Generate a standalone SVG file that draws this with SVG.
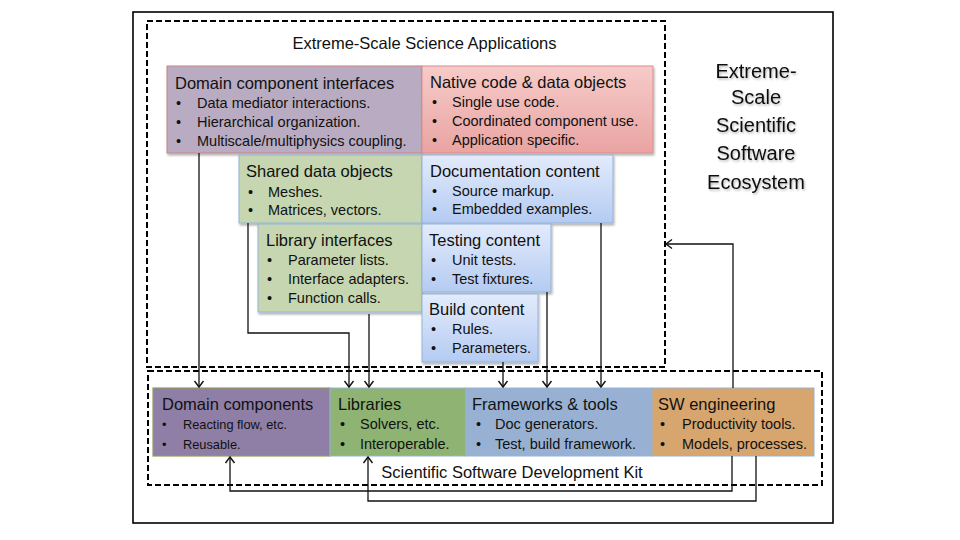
<svg xmlns="http://www.w3.org/2000/svg" width="960" height="540" viewBox="0 0 960 540">
<defs>
<style>
.t{font-family:"Liberation Sans",Arial,sans-serif;fill:#111;}
.h{font-size:16.5px;}
.b{font-size:14.5px;}
.s{font-size:12.8px;}
.big{font-size:20px;text-anchor:middle;}
.dash{fill:none;stroke:#000;stroke-width:2;stroke-dasharray:6 3;}
.c{fill:none;stroke:#111;stroke-width:1.3;}
</style>
<linearGradient id="gRed" x1="0" y1="0" x2="0" y2="1"><stop offset="0" stop-color="#f6cbc9"/><stop offset="1" stop-color="#e9a4a2"/></linearGradient>
<linearGradient id="gBlue" x1="0" y1="0" x2="0" y2="1"><stop offset="0" stop-color="#e3ebfb"/><stop offset="1" stop-color="#b4cbf2"/></linearGradient>
<filter id="sh" x="-5%" y="-5%" width="115%" height="125%"><feDropShadow dx="1" dy="2" stdDeviation="1.3" flood-color="#000" flood-opacity="0.3"/></filter>
<filter id="tsh" x="-10%" y="-10%" width="130%" height="140%"><feDropShadow dx="1" dy="1.5" stdDeviation="1" flood-color="#000" flood-opacity="0.3"/></filter>
<marker id="ar" markerUnits="userSpaceOnUse" markerWidth="12" markerHeight="12" refX="7" refY="6" orient="auto"><path d="M1,1.5 L7,6 L1,10.5" fill="none" stroke="#111" stroke-width="1.4"/></marker>
</defs>
<rect x="133" y="12" width="700" height="511" fill="#fff" stroke="#000" stroke-width="1.6"/>
<rect class="dash" x="147" y="21" width="518" height="346"/>
<rect class="dash" x="148" y="371" width="674" height="114"/>
<text class="t h" x="424.5" y="49" text-anchor="middle">Extreme-Scale Science Applications</text>
<text class="t h" x="512" y="478" text-anchor="middle">Scientific Software Development Kit</text>
<g id="ecosystem-label" filter="url(#tsh)">
<text class="t big" x="756" y="78">Extreme-</text>
<text class="t big" x="756" y="104">Scale</text>
<text class="t big" x="756" y="132">Scientific</text>
<text class="t big" x="756" y="160">Software</text>
<text class="t big" x="756" y="189">Ecosystem</text>
</g>
<g id="domain-component-interfaces">
<rect x="167" y="66" width="255" height="87" fill="#b9abc2" stroke="#c8847f" stroke-width="1" filter="url(#sh)"/>
<text class="t h" x="175" y="89">Domain component interfaces</text>
<text class="t b" x="176" y="108">•</text><text class="t b" x="197" y="108">Data mediator interactions.</text>
<text class="t b" x="176" y="127">•</text><text class="t b" x="197" y="127">Hierarchical organization.</text>
<text class="t b" x="176" y="146">•</text><text class="t b" x="197" y="146">Multiscale/multiphysics coupling.</text>
</g>
<g id="native-code">
<rect x="422" y="66" width="231" height="87" fill="url(#gRed)" stroke="#d98e8b" stroke-width="1" filter="url(#sh)"/>
<text class="t h" x="430" y="88">Native code &amp; data objects</text>
<text class="t b" x="432" y="107">•</text><text class="t b" x="452" y="107">Single use code.</text>
<text class="t b" x="432" y="126">•</text><text class="t b" x="452" y="126">Coordinated component use.</text>
<text class="t b" x="432" y="145">•</text><text class="t b" x="452" y="145">Application specific.</text>
</g>
<g id="shared-data-objects">
<rect x="239" y="155" width="183" height="68" fill="#c5d6b0" stroke="#95b3d7" stroke-width="1" filter="url(#sh)"/>
<text class="t h" x="246" y="177">Shared data objects</text>
<text class="t b" x="248" y="197">•</text><text class="t b" x="268" y="197">Meshes.</text>
<text class="t b" x="248" y="215">•</text><text class="t b" x="268" y="215">Matrices, vectors.</text>
</g>
<g id="documentation-content">
<rect x="422" y="155" width="191" height="68" fill="url(#gBlue)" stroke="#95b3d7" stroke-width="1" filter="url(#sh)"/>
<text class="t h" x="430" y="177">Documentation content</text>
<text class="t b" x="432" y="196">•</text><text class="t b" x="452" y="196">Source markup.</text>
<text class="t b" x="432" y="214">•</text><text class="t b" x="452" y="214">Embedded examples.</text>
</g>
<g id="library-interfaces">
<rect x="258" y="224" width="164" height="88" fill="#c5d6b0" stroke="#95b3d7" stroke-width="1" filter="url(#sh)"/>
<text class="t h" x="266" y="246">Library interfaces</text>
<text class="t b" x="267" y="265">•</text><text class="t b" x="288" y="265">Parameter lists.</text>
<text class="t b" x="267" y="284">•</text><text class="t b" x="288" y="284">Interface adapters.</text>
<text class="t b" x="267" y="303">•</text><text class="t b" x="288" y="303">Function calls.</text>
</g>
<g id="testing-content">
<rect x="422" y="224" width="129" height="68" fill="url(#gBlue)" stroke="#95b3d7" stroke-width="1" filter="url(#sh)"/>
<text class="t h" x="429" y="246">Testing content</text>
<text class="t b" x="431" y="265">•</text><text class="t b" x="452" y="265">Unit tests.</text>
<text class="t b" x="431" y="284">•</text><text class="t b" x="452" y="284">Test fixtures.</text>
</g>
<g id="build-content">
<rect x="422" y="294" width="116" height="68" fill="url(#gBlue)" stroke="#95b3d7" stroke-width="1" filter="url(#sh)"/>
<text class="t h" x="429" y="315">Build content</text>
<text class="t b" x="431" y="334">•</text><text class="t b" x="452" y="334">Rules.</text>
<text class="t b" x="431" y="353">•</text><text class="t b" x="452" y="353">Parameters.</text>
</g>
<g id="domain-components">
<rect x="153" y="388" width="177" height="68" fill="#8f7fa7" stroke="#8f9d5c" stroke-width="1.2"/>
<text class="t h" x="162" y="410">Domain components</text>
<text class="t s" x="162" y="429">•</text><text class="t s" x="183" y="429">Reacting flow, etc.</text>
<text class="t s" x="162" y="449">•</text><text class="t s" x="183" y="449">Reusable.</text>
</g>
<g id="libraries">
<rect x="330" y="388" width="136" height="68" fill="#8eb372" stroke="#95b3d7" stroke-width="1"/>
<text class="t h" x="338" y="410">Libraries</text>
<text class="t b" x="340" y="429">•</text><text class="t b" x="360" y="429">Solvers, etc.</text>
<text class="t b" x="340" y="449">•</text><text class="t b" x="360" y="449">Interoperable.</text>
</g>
<g id="frameworks-tools">
<rect x="466" y="388" width="186" height="68" fill="#98b1d3" stroke="#95b3d7" stroke-width="1"/>
<text class="t h" x="472" y="410">Frameworks &amp; tools</text>
<text class="t b" x="476" y="429">•</text><text class="t b" x="495" y="429">Doc generators.</text>
<text class="t b" x="476" y="449">•</text><text class="t b" x="495" y="449">Test, build framework.</text>
</g>
<g id="sw-engineering">
<rect x="652" y="388" width="162" height="68" fill="#d7a56e" stroke="#95b3d7" stroke-width="1"/>
<text class="t h" x="658" y="410">SW engineering</text>
<text class="t b" x="660" y="429">•</text><text class="t b" x="682" y="429">Productivity tools.</text>
<text class="t b" x="660" y="449">•</text><text class="t b" x="682" y="449">Models, processes.</text>
</g>
<g id="connectors">
<path class="c" d="M199,153 V387" marker-end="url(#ar)"/>
<path class="c" d="M248,223 V333 H349 V387" marker-end="url(#ar)"/>
<path class="c" d="M369,314 V387" marker-end="url(#ar)"/>
<path class="c" d="M503,362 V387" marker-end="url(#ar)"/>
<path class="c" d="M547,292 V387" marker-end="url(#ar)"/>
<path class="c" d="M601,223 V387" marker-end="url(#ar)"/>
<path class="c" d="M733,388 V244 H666" marker-end="url(#ar)"/>
<path class="c" d="M732,456 V491 H230 V457" marker-end="url(#ar)"/>
<path class="c" d="M756,456 V501 H368 V457" marker-end="url(#ar)"/>
</g>
</svg>
